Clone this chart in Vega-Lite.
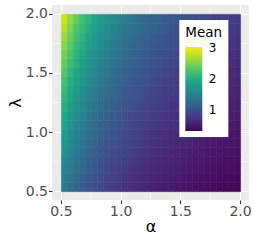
{
"$schema":"https://vega.github.io/schema/vega-lite/v6.json",
"width":197,"height":195,
"autosize":{"type":"none"},
"padding":{"left":52,"top":5,"right":5,"bottom":41},
"background":"white",
"config":{"view":{"fill":"#EBEBEB","stroke":null},"font":"DejaVu Sans"},
"datasets":{
"minor":[{"v":0.75},{"v":1.25},{"v":1.75}],
"grid":[
{"l":0.5375,"a":0.525,"m":1.45},{"l":0.5375,"a":0.575,"m":1.32},{"l":0.5375,"a":0.625,"m":1.21},{"l":0.5375,"a":0.675,"m":1.12},{"l":0.5375,"a":0.725,"m":1.04},{"l":0.5375,"a":0.775,"m":0.97},{"l":0.5375,"a":0.825,"m":0.91},{"l":0.5375,"a":0.875,"m":0.86},{"l":0.5375,"a":0.925,"m":0.81},{"l":0.5375,"a":0.975,"m":0.77},{"l":0.5375,"a":1.025,"m":0.73},{"l":0.5375,"a":1.075,"m":0.69},{"l":0.5375,"a":1.125,"m":0.66},{"l":0.5375,"a":1.175,"m":0.63},{"l":0.5375,"a":1.225,"m":0.60},{"l":0.5375,"a":1.275,"m":0.58},{"l":0.5375,"a":1.325,"m":0.55},{"l":0.5375,"a":1.375,"m":0.53},{"l":0.5375,"a":1.425,"m":0.51},{"l":0.5375,"a":1.475,"m":0.49},{"l":0.5375,"a":1.525,"m":0.48},{"l":0.5375,"a":1.575,"m":0.46},{"l":0.5375,"a":1.625,"m":0.45},{"l":0.5375,"a":1.675,"m":0.43},{"l":0.5375,"a":1.725,"m":0.42},{"l":0.5375,"a":1.775,"m":0.40},{"l":0.5375,"a":1.825,"m":0.39},{"l":0.5375,"a":1.875,"m":0.38},{"l":0.5375,"a":1.925,"m":0.37},{"l":0.5375,"a":1.975,"m":0.36},
{"l":0.6125,"a":0.525,"m":1.51},{"l":0.6125,"a":0.575,"m":1.38},{"l":0.6125,"a":0.625,"m":1.27},{"l":0.6125,"a":0.675,"m":1.17},{"l":0.6125,"a":0.725,"m":1.09},{"l":0.6125,"a":0.775,"m":1.02},{"l":0.6125,"a":0.825,"m":0.95},{"l":0.6125,"a":0.875,"m":0.90},{"l":0.6125,"a":0.925,"m":0.85},{"l":0.6125,"a":0.975,"m":0.80},{"l":0.6125,"a":1.025,"m":0.76},{"l":0.6125,"a":1.075,"m":0.72},{"l":0.6125,"a":1.125,"m":0.69},{"l":0.6125,"a":1.175,"m":0.66},{"l":0.6125,"a":1.225,"m":0.63},{"l":0.6125,"a":1.275,"m":0.60},{"l":0.6125,"a":1.325,"m":0.58},{"l":0.6125,"a":1.375,"m":0.56},{"l":0.6125,"a":1.425,"m":0.54},{"l":0.6125,"a":1.475,"m":0.52},{"l":0.6125,"a":1.525,"m":0.50},{"l":0.6125,"a":1.575,"m":0.48},{"l":0.6125,"a":1.625,"m":0.47},{"l":0.6125,"a":1.675,"m":0.45},{"l":0.6125,"a":1.725,"m":0.44},{"l":0.6125,"a":1.775,"m":0.43},{"l":0.6125,"a":1.825,"m":0.41},{"l":0.6125,"a":1.875,"m":0.40},{"l":0.6125,"a":1.925,"m":0.39},{"l":0.6125,"a":1.975,"m":0.38},
{"l":0.6875,"a":0.525,"m":1.57},{"l":0.6875,"a":0.575,"m":1.44},{"l":0.6875,"a":0.625,"m":1.32},{"l":0.6875,"a":0.675,"m":1.22},{"l":0.6875,"a":0.725,"m":1.13},{"l":0.6875,"a":0.775,"m":1.06},{"l":0.6875,"a":0.825,"m":0.99},{"l":0.6875,"a":0.875,"m":0.93},{"l":0.6875,"a":0.925,"m":0.88},{"l":0.6875,"a":0.975,"m":0.83},{"l":0.6875,"a":1.025,"m":0.79},{"l":0.6875,"a":1.075,"m":0.75},{"l":0.6875,"a":1.125,"m":0.72},{"l":0.6875,"a":1.175,"m":0.69},{"l":0.6875,"a":1.225,"m":0.66},{"l":0.6875,"a":1.275,"m":0.63},{"l":0.6875,"a":1.325,"m":0.61},{"l":0.6875,"a":1.375,"m":0.58},{"l":0.6875,"a":1.425,"m":0.56},{"l":0.6875,"a":1.475,"m":0.54},{"l":0.6875,"a":1.525,"m":0.52},{"l":0.6875,"a":1.575,"m":0.51},{"l":0.6875,"a":1.625,"m":0.49},{"l":0.6875,"a":1.675,"m":0.47},{"l":0.6875,"a":1.725,"m":0.46},{"l":0.6875,"a":1.775,"m":0.45},{"l":0.6875,"a":1.825,"m":0.43},{"l":0.6875,"a":1.875,"m":0.42},{"l":0.6875,"a":1.925,"m":0.41},{"l":0.6875,"a":1.975,"m":0.40},
{"l":0.7625,"a":0.525,"m":1.64},{"l":0.7625,"a":0.575,"m":1.49},{"l":0.7625,"a":0.625,"m":1.37},{"l":0.7625,"a":0.675,"m":1.27},{"l":0.7625,"a":0.725,"m":1.18},{"l":0.7625,"a":0.775,"m":1.10},{"l":0.7625,"a":0.825,"m":1.03},{"l":0.7625,"a":0.875,"m":0.97},{"l":0.7625,"a":0.925,"m":0.92},{"l":0.7625,"a":0.975,"m":0.87},{"l":0.7625,"a":1.025,"m":0.83},{"l":0.7625,"a":1.075,"m":0.79},{"l":0.7625,"a":1.125,"m":0.75},{"l":0.7625,"a":1.175,"m":0.72},{"l":0.7625,"a":1.225,"m":0.69},{"l":0.7625,"a":1.275,"m":0.66},{"l":0.7625,"a":1.325,"m":0.63},{"l":0.7625,"a":1.375,"m":0.61},{"l":0.7625,"a":1.425,"m":0.59},{"l":0.7625,"a":1.475,"m":0.57},{"l":0.7625,"a":1.525,"m":0.55},{"l":0.7625,"a":1.575,"m":0.53},{"l":0.7625,"a":1.625,"m":0.51},{"l":0.7625,"a":1.675,"m":0.50},{"l":0.7625,"a":1.725,"m":0.48},{"l":0.7625,"a":1.775,"m":0.47},{"l":0.7625,"a":1.825,"m":0.45},{"l":0.7625,"a":1.875,"m":0.44},{"l":0.7625,"a":1.925,"m":0.43},{"l":0.7625,"a":1.975,"m":0.42},
{"l":0.8375,"a":0.525,"m":1.70},{"l":0.8375,"a":0.575,"m":1.55},{"l":0.8375,"a":0.625,"m":1.42},{"l":0.8375,"a":0.675,"m":1.32},{"l":0.8375,"a":0.725,"m":1.22},{"l":0.8375,"a":0.775,"m":1.14},{"l":0.8375,"a":0.825,"m":1.07},{"l":0.8375,"a":0.875,"m":1.01},{"l":0.8375,"a":0.925,"m":0.95},{"l":0.8375,"a":0.975,"m":0.90},{"l":0.8375,"a":1.025,"m":0.86},{"l":0.8375,"a":1.075,"m":0.82},{"l":0.8375,"a":1.125,"m":0.78},{"l":0.8375,"a":1.175,"m":0.75},{"l":0.8375,"a":1.225,"m":0.72},{"l":0.8375,"a":1.275,"m":0.69},{"l":0.8375,"a":1.325,"m":0.66},{"l":0.8375,"a":1.375,"m":0.64},{"l":0.8375,"a":1.425,"m":0.61},{"l":0.8375,"a":1.475,"m":0.59},{"l":0.8375,"a":1.525,"m":0.57},{"l":0.8375,"a":1.575,"m":0.55},{"l":0.8375,"a":1.625,"m":0.53},{"l":0.8375,"a":1.675,"m":0.52},{"l":0.8375,"a":1.725,"m":0.50},{"l":0.8375,"a":1.775,"m":0.49},{"l":0.8375,"a":1.825,"m":0.47},{"l":0.8375,"a":1.875,"m":0.46},{"l":0.8375,"a":1.925,"m":0.45},{"l":0.8375,"a":1.975,"m":0.44},
{"l":0.9125,"a":0.525,"m":1.76},{"l":0.9125,"a":0.575,"m":1.61},{"l":0.9125,"a":0.625,"m":1.48},{"l":0.9125,"a":0.675,"m":1.37},{"l":0.9125,"a":0.725,"m":1.27},{"l":0.9125,"a":0.775,"m":1.19},{"l":0.9125,"a":0.825,"m":1.11},{"l":0.9125,"a":0.875,"m":1.05},{"l":0.9125,"a":0.925,"m":0.99},{"l":0.9125,"a":0.975,"m":0.94},{"l":0.9125,"a":1.025,"m":0.89},{"l":0.9125,"a":1.075,"m":0.85},{"l":0.9125,"a":1.125,"m":0.81},{"l":0.9125,"a":1.175,"m":0.78},{"l":0.9125,"a":1.225,"m":0.74},{"l":0.9125,"a":1.275,"m":0.71},{"l":0.9125,"a":1.325,"m":0.69},{"l":0.9125,"a":1.375,"m":0.66},{"l":0.9125,"a":1.425,"m":0.64},{"l":0.9125,"a":1.475,"m":0.62},{"l":0.9125,"a":1.525,"m":0.59},{"l":0.9125,"a":1.575,"m":0.58},{"l":0.9125,"a":1.625,"m":0.56},{"l":0.9125,"a":1.675,"m":0.54},{"l":0.9125,"a":1.725,"m":0.52},{"l":0.9125,"a":1.775,"m":0.51},{"l":0.9125,"a":1.825,"m":0.49},{"l":0.9125,"a":1.875,"m":0.48},{"l":0.9125,"a":1.925,"m":0.47},{"l":0.9125,"a":1.975,"m":0.45},
{"l":0.9875,"a":0.525,"m":1.83},{"l":0.9875,"a":0.575,"m":1.67},{"l":0.9875,"a":0.625,"m":1.53},{"l":0.9875,"a":0.675,"m":1.42},{"l":0.9875,"a":0.725,"m":1.32},{"l":0.9875,"a":0.775,"m":1.23},{"l":0.9875,"a":0.825,"m":1.16},{"l":0.9875,"a":0.875,"m":1.09},{"l":0.9875,"a":0.925,"m":1.03},{"l":0.9875,"a":0.975,"m":0.98},{"l":0.9875,"a":1.025,"m":0.93},{"l":0.9875,"a":1.075,"m":0.88},{"l":0.9875,"a":1.125,"m":0.84},{"l":0.9875,"a":1.175,"m":0.81},{"l":0.9875,"a":1.225,"m":0.77},{"l":0.9875,"a":1.275,"m":0.74},{"l":0.9875,"a":1.325,"m":0.71},{"l":0.9875,"a":1.375,"m":0.69},{"l":0.9875,"a":1.425,"m":0.66},{"l":0.9875,"a":1.475,"m":0.64},{"l":0.9875,"a":1.525,"m":0.62},{"l":0.9875,"a":1.575,"m":0.60},{"l":0.9875,"a":1.625,"m":0.58},{"l":0.9875,"a":1.675,"m":0.56},{"l":0.9875,"a":1.725,"m":0.55},{"l":0.9875,"a":1.775,"m":0.53},{"l":0.9875,"a":1.825,"m":0.52},{"l":0.9875,"a":1.875,"m":0.50},{"l":0.9875,"a":1.925,"m":0.49},{"l":0.9875,"a":1.975,"m":0.47},
{"l":1.0625,"a":0.525,"m":1.89},{"l":1.0625,"a":0.575,"m":1.73},{"l":1.0625,"a":0.625,"m":1.59},{"l":1.0625,"a":0.675,"m":1.47},{"l":1.0625,"a":0.725,"m":1.37},{"l":1.0625,"a":0.775,"m":1.28},{"l":1.0625,"a":0.825,"m":1.20},{"l":1.0625,"a":0.875,"m":1.13},{"l":1.0625,"a":0.925,"m":1.07},{"l":1.0625,"a":0.975,"m":1.01},{"l":1.0625,"a":1.025,"m":0.96},{"l":1.0625,"a":1.075,"m":0.92},{"l":1.0625,"a":1.125,"m":0.88},{"l":1.0625,"a":1.175,"m":0.84},{"l":1.0625,"a":1.225,"m":0.80},{"l":1.0625,"a":1.275,"m":0.77},{"l":1.0625,"a":1.325,"m":0.74},{"l":1.0625,"a":1.375,"m":0.72},{"l":1.0625,"a":1.425,"m":0.69},{"l":1.0625,"a":1.475,"m":0.67},{"l":1.0625,"a":1.525,"m":0.64},{"l":1.0625,"a":1.575,"m":0.62},{"l":1.0625,"a":1.625,"m":0.60},{"l":1.0625,"a":1.675,"m":0.59},{"l":1.0625,"a":1.725,"m":0.57},{"l":1.0625,"a":1.775,"m":0.55},{"l":1.0625,"a":1.825,"m":0.54},{"l":1.0625,"a":1.875,"m":0.52},{"l":1.0625,"a":1.925,"m":0.51},{"l":1.0625,"a":1.975,"m":0.49},
{"l":1.1375,"a":0.525,"m":1.96},{"l":1.1375,"a":0.575,"m":1.79},{"l":1.1375,"a":0.625,"m":1.64},{"l":1.1375,"a":0.675,"m":1.52},{"l":1.1375,"a":0.725,"m":1.42},{"l":1.1375,"a":0.775,"m":1.32},{"l":1.1375,"a":0.825,"m":1.24},{"l":1.1375,"a":0.875,"m":1.17},{"l":1.1375,"a":0.925,"m":1.11},{"l":1.1375,"a":0.975,"m":1.05},{"l":1.1375,"a":1.025,"m":1.00},{"l":1.1375,"a":1.075,"m":0.95},{"l":1.1375,"a":1.125,"m":0.91},{"l":1.1375,"a":1.175,"m":0.87},{"l":1.1375,"a":1.225,"m":0.84},{"l":1.1375,"a":1.275,"m":0.80},{"l":1.1375,"a":1.325,"m":0.77},{"l":1.1375,"a":1.375,"m":0.74},{"l":1.1375,"a":1.425,"m":0.72},{"l":1.1375,"a":1.475,"m":0.69},{"l":1.1375,"a":1.525,"m":0.67},{"l":1.1375,"a":1.575,"m":0.65},{"l":1.1375,"a":1.625,"m":0.63},{"l":1.1375,"a":1.675,"m":0.61},{"l":1.1375,"a":1.725,"m":0.59},{"l":1.1375,"a":1.775,"m":0.57},{"l":1.1375,"a":1.825,"m":0.56},{"l":1.1375,"a":1.875,"m":0.54},{"l":1.1375,"a":1.925,"m":0.53},{"l":1.1375,"a":1.975,"m":0.52},
{"l":1.2125,"a":0.525,"m":2.03},{"l":1.2125,"a":0.575,"m":1.85},{"l":1.2125,"a":0.625,"m":1.70},{"l":1.2125,"a":0.675,"m":1.58},{"l":1.2125,"a":0.725,"m":1.47},{"l":1.2125,"a":0.775,"m":1.37},{"l":1.2125,"a":0.825,"m":1.29},{"l":1.2125,"a":0.875,"m":1.21},{"l":1.2125,"a":0.925,"m":1.15},{"l":1.2125,"a":0.975,"m":1.09},{"l":1.2125,"a":1.025,"m":1.04},{"l":1.2125,"a":1.075,"m":0.99},{"l":1.2125,"a":1.125,"m":0.94},{"l":1.2125,"a":1.175,"m":0.90},{"l":1.2125,"a":1.225,"m":0.87},{"l":1.2125,"a":1.275,"m":0.83},{"l":1.2125,"a":1.325,"m":0.80},{"l":1.2125,"a":1.375,"m":0.77},{"l":1.2125,"a":1.425,"m":0.74},{"l":1.2125,"a":1.475,"m":0.72},{"l":1.2125,"a":1.525,"m":0.70},{"l":1.2125,"a":1.575,"m":0.67},{"l":1.2125,"a":1.625,"m":0.65},{"l":1.2125,"a":1.675,"m":0.63},{"l":1.2125,"a":1.725,"m":0.61},{"l":1.2125,"a":1.775,"m":0.60},{"l":1.2125,"a":1.825,"m":0.58},{"l":1.2125,"a":1.875,"m":0.57},{"l":1.2125,"a":1.925,"m":0.55},{"l":1.2125,"a":1.975,"m":0.54},
{"l":1.2875,"a":0.525,"m":2.10},{"l":1.2875,"a":0.575,"m":1.92},{"l":1.2875,"a":0.625,"m":1.76},{"l":1.2875,"a":0.675,"m":1.63},{"l":1.2875,"a":0.725,"m":1.52},{"l":1.2875,"a":0.775,"m":1.42},{"l":1.2875,"a":0.825,"m":1.34},{"l":1.2875,"a":0.875,"m":1.26},{"l":1.2875,"a":0.925,"m":1.19},{"l":1.2875,"a":0.975,"m":1.13},{"l":1.2875,"a":1.025,"m":1.07},{"l":1.2875,"a":1.075,"m":1.02},{"l":1.2875,"a":1.125,"m":0.98},{"l":1.2875,"a":1.175,"m":0.94},{"l":1.2875,"a":1.225,"m":0.90},{"l":1.2875,"a":1.275,"m":0.86},{"l":1.2875,"a":1.325,"m":0.83},{"l":1.2875,"a":1.375,"m":0.80},{"l":1.2875,"a":1.425,"m":0.77},{"l":1.2875,"a":1.475,"m":0.75},{"l":1.2875,"a":1.525,"m":0.72},{"l":1.2875,"a":1.575,"m":0.70},{"l":1.2875,"a":1.625,"m":0.68},{"l":1.2875,"a":1.675,"m":0.66},{"l":1.2875,"a":1.725,"m":0.64},{"l":1.2875,"a":1.775,"m":0.62},{"l":1.2875,"a":1.825,"m":0.60},{"l":1.2875,"a":1.875,"m":0.59},{"l":1.2875,"a":1.925,"m":0.57},{"l":1.2875,"a":1.975,"m":0.56},
{"l":1.3625,"a":0.525,"m":2.17},{"l":1.3625,"a":0.575,"m":1.98},{"l":1.3625,"a":0.625,"m":1.82},{"l":1.3625,"a":0.675,"m":1.69},{"l":1.3625,"a":0.725,"m":1.57},{"l":1.3625,"a":0.775,"m":1.47},{"l":1.3625,"a":0.825,"m":1.38},{"l":1.3625,"a":0.875,"m":1.30},{"l":1.3625,"a":0.925,"m":1.23},{"l":1.3625,"a":0.975,"m":1.17},{"l":1.3625,"a":1.025,"m":1.11},{"l":1.3625,"a":1.075,"m":1.06},{"l":1.3625,"a":1.125,"m":1.02},{"l":1.3625,"a":1.175,"m":0.97},{"l":1.3625,"a":1.225,"m":0.93},{"l":1.3625,"a":1.275,"m":0.90},{"l":1.3625,"a":1.325,"m":0.86},{"l":1.3625,"a":1.375,"m":0.83},{"l":1.3625,"a":1.425,"m":0.80},{"l":1.3625,"a":1.475,"m":0.78},{"l":1.3625,"a":1.525,"m":0.75},{"l":1.3625,"a":1.575,"m":0.73},{"l":1.3625,"a":1.625,"m":0.70},{"l":1.3625,"a":1.675,"m":0.68},{"l":1.3625,"a":1.725,"m":0.66},{"l":1.3625,"a":1.775,"m":0.65},{"l":1.3625,"a":1.825,"m":0.63},{"l":1.3625,"a":1.875,"m":0.61},{"l":1.3625,"a":1.925,"m":0.60},{"l":1.3625,"a":1.975,"m":0.58},
{"l":1.4375,"a":0.525,"m":2.24},{"l":1.4375,"a":0.575,"m":2.05},{"l":1.4375,"a":0.625,"m":1.89},{"l":1.4375,"a":0.675,"m":1.75},{"l":1.4375,"a":0.725,"m":1.63},{"l":1.4375,"a":0.775,"m":1.52},{"l":1.4375,"a":0.825,"m":1.43},{"l":1.4375,"a":0.875,"m":1.35},{"l":1.4375,"a":0.925,"m":1.28},{"l":1.4375,"a":0.975,"m":1.21},{"l":1.4375,"a":1.025,"m":1.15},{"l":1.4375,"a":1.075,"m":1.10},{"l":1.4375,"a":1.125,"m":1.05},{"l":1.4375,"a":1.175,"m":1.01},{"l":1.4375,"a":1.225,"m":0.97},{"l":1.4375,"a":1.275,"m":0.93},{"l":1.4375,"a":1.325,"m":0.89},{"l":1.4375,"a":1.375,"m":0.86},{"l":1.4375,"a":1.425,"m":0.83},{"l":1.4375,"a":1.475,"m":0.80},{"l":1.4375,"a":1.525,"m":0.78},{"l":1.4375,"a":1.575,"m":0.75},{"l":1.4375,"a":1.625,"m":0.73},{"l":1.4375,"a":1.675,"m":0.71},{"l":1.4375,"a":1.725,"m":0.69},{"l":1.4375,"a":1.775,"m":0.67},{"l":1.4375,"a":1.825,"m":0.65},{"l":1.4375,"a":1.875,"m":0.63},{"l":1.4375,"a":1.925,"m":0.62},{"l":1.4375,"a":1.975,"m":0.60},
{"l":1.5125,"a":0.525,"m":2.32},{"l":1.5125,"a":0.575,"m":2.12},{"l":1.5125,"a":0.625,"m":1.95},{"l":1.5125,"a":0.675,"m":1.81},{"l":1.5125,"a":0.725,"m":1.68},{"l":1.5125,"a":0.775,"m":1.58},{"l":1.5125,"a":0.825,"m":1.48},{"l":1.5125,"a":0.875,"m":1.40},{"l":1.5125,"a":0.925,"m":1.32},{"l":1.5125,"a":0.975,"m":1.26},{"l":1.5125,"a":1.025,"m":1.20},{"l":1.5125,"a":1.075,"m":1.14},{"l":1.5125,"a":1.125,"m":1.09},{"l":1.5125,"a":1.175,"m":1.04},{"l":1.5125,"a":1.225,"m":1.00},{"l":1.5125,"a":1.275,"m":0.96},{"l":1.5125,"a":1.325,"m":0.93},{"l":1.5125,"a":1.375,"m":0.89},{"l":1.5125,"a":1.425,"m":0.86},{"l":1.5125,"a":1.475,"m":0.83},{"l":1.5125,"a":1.525,"m":0.81},{"l":1.5125,"a":1.575,"m":0.78},{"l":1.5125,"a":1.625,"m":0.76},{"l":1.5125,"a":1.675,"m":0.74},{"l":1.5125,"a":1.725,"m":0.72},{"l":1.5125,"a":1.775,"m":0.70},{"l":1.5125,"a":1.825,"m":0.68},{"l":1.5125,"a":1.875,"m":0.66},{"l":1.5125,"a":1.925,"m":0.64},{"l":1.5125,"a":1.975,"m":0.63},
{"l":1.5875,"a":0.525,"m":2.40},{"l":1.5875,"a":0.575,"m":2.19},{"l":1.5875,"a":0.625,"m":2.02},{"l":1.5875,"a":0.675,"m":1.87},{"l":1.5875,"a":0.725,"m":1.74},{"l":1.5875,"a":0.775,"m":1.63},{"l":1.5875,"a":0.825,"m":1.53},{"l":1.5875,"a":0.875,"m":1.45},{"l":1.5875,"a":0.925,"m":1.37},{"l":1.5875,"a":0.975,"m":1.30},{"l":1.5875,"a":1.025,"m":1.24},{"l":1.5875,"a":1.075,"m":1.18},{"l":1.5875,"a":1.125,"m":1.13},{"l":1.5875,"a":1.175,"m":1.08},{"l":1.5875,"a":1.225,"m":1.04},{"l":1.5875,"a":1.275,"m":1.00},{"l":1.5875,"a":1.325,"m":0.96},{"l":1.5875,"a":1.375,"m":0.93},{"l":1.5875,"a":1.425,"m":0.90},{"l":1.5875,"a":1.475,"m":0.87},{"l":1.5875,"a":1.525,"m":0.84},{"l":1.5875,"a":1.575,"m":0.81},{"l":1.5875,"a":1.625,"m":0.79},{"l":1.5875,"a":1.675,"m":0.76},{"l":1.5875,"a":1.725,"m":0.74},{"l":1.5875,"a":1.775,"m":0.72},{"l":1.5875,"a":1.825,"m":0.70},{"l":1.5875,"a":1.875,"m":0.68},{"l":1.5875,"a":1.925,"m":0.67},{"l":1.5875,"a":1.975,"m":0.65},
{"l":1.6625,"a":0.525,"m":2.48},{"l":1.6625,"a":0.575,"m":2.27},{"l":1.6625,"a":0.625,"m":2.09},{"l":1.6625,"a":0.675,"m":1.94},{"l":1.6625,"a":0.725,"m":1.80},{"l":1.6625,"a":0.775,"m":1.69},{"l":1.6625,"a":0.825,"m":1.59},{"l":1.6625,"a":0.875,"m":1.50},{"l":1.6625,"a":0.925,"m":1.42},{"l":1.6625,"a":0.975,"m":1.35},{"l":1.6625,"a":1.025,"m":1.28},{"l":1.6625,"a":1.075,"m":1.22},{"l":1.6625,"a":1.125,"m":1.17},{"l":1.6625,"a":1.175,"m":1.12},{"l":1.6625,"a":1.225,"m":1.08},{"l":1.6625,"a":1.275,"m":1.04},{"l":1.6625,"a":1.325,"m":1.00},{"l":1.6625,"a":1.375,"m":0.96},{"l":1.6625,"a":1.425,"m":0.93},{"l":1.6625,"a":1.475,"m":0.90},{"l":1.6625,"a":1.525,"m":0.87},{"l":1.6625,"a":1.575,"m":0.84},{"l":1.6625,"a":1.625,"m":0.82},{"l":1.6625,"a":1.675,"m":0.79},{"l":1.6625,"a":1.725,"m":0.77},{"l":1.6625,"a":1.775,"m":0.75},{"l":1.6625,"a":1.825,"m":0.73},{"l":1.6625,"a":1.875,"m":0.71},{"l":1.6625,"a":1.925,"m":0.69},{"l":1.6625,"a":1.975,"m":0.68},
{"l":1.7375,"a":0.525,"m":2.57},{"l":1.7375,"a":0.575,"m":2.35},{"l":1.7375,"a":0.625,"m":2.16},{"l":1.7375,"a":0.675,"m":2.00},{"l":1.7375,"a":0.725,"m":1.87},{"l":1.7375,"a":0.775,"m":1.75},{"l":1.7375,"a":0.825,"m":1.64},{"l":1.7375,"a":0.875,"m":1.55},{"l":1.7375,"a":0.925,"m":1.47},{"l":1.7375,"a":0.975,"m":1.40},{"l":1.7375,"a":1.025,"m":1.33},{"l":1.7375,"a":1.075,"m":1.27},{"l":1.7375,"a":1.125,"m":1.21},{"l":1.7375,"a":1.175,"m":1.16},{"l":1.7375,"a":1.225,"m":1.12},{"l":1.7375,"a":1.275,"m":1.07},{"l":1.7375,"a":1.325,"m":1.03},{"l":1.7375,"a":1.375,"m":1.00},{"l":1.7375,"a":1.425,"m":0.96},{"l":1.7375,"a":1.475,"m":0.93},{"l":1.7375,"a":1.525,"m":0.90},{"l":1.7375,"a":1.575,"m":0.87},{"l":1.7375,"a":1.625,"m":0.85},{"l":1.7375,"a":1.675,"m":0.82},{"l":1.7375,"a":1.725,"m":0.80},{"l":1.7375,"a":1.775,"m":0.78},{"l":1.7375,"a":1.825,"m":0.76},{"l":1.7375,"a":1.875,"m":0.74},{"l":1.7375,"a":1.925,"m":0.72},{"l":1.7375,"a":1.975,"m":0.70},
{"l":1.8125,"a":0.525,"m":2.66},{"l":1.8125,"a":0.575,"m":2.43},{"l":1.8125,"a":0.625,"m":2.24},{"l":1.8125,"a":0.675,"m":2.07},{"l":1.8125,"a":0.725,"m":1.93},{"l":1.8125,"a":0.775,"m":1.81},{"l":1.8125,"a":0.825,"m":1.70},{"l":1.8125,"a":0.875,"m":1.61},{"l":1.8125,"a":0.925,"m":1.52},{"l":1.8125,"a":0.975,"m":1.45},{"l":1.8125,"a":1.025,"m":1.38},{"l":1.8125,"a":1.075,"m":1.31},{"l":1.8125,"a":1.125,"m":1.26},{"l":1.8125,"a":1.175,"m":1.20},{"l":1.8125,"a":1.225,"m":1.16},{"l":1.8125,"a":1.275,"m":1.11},{"l":1.8125,"a":1.325,"m":1.07},{"l":1.8125,"a":1.375,"m":1.03},{"l":1.8125,"a":1.425,"m":1.00},{"l":1.8125,"a":1.475,"m":0.97},{"l":1.8125,"a":1.525,"m":0.94},{"l":1.8125,"a":1.575,"m":0.91},{"l":1.8125,"a":1.625,"m":0.88},{"l":1.8125,"a":1.675,"m":0.85},{"l":1.8125,"a":1.725,"m":0.83},{"l":1.8125,"a":1.775,"m":0.81},{"l":1.8125,"a":1.825,"m":0.79},{"l":1.8125,"a":1.875,"m":0.77},{"l":1.8125,"a":1.925,"m":0.75},{"l":1.8125,"a":1.975,"m":0.73},
{"l":1.8875,"a":0.525,"m":2.75},{"l":1.8875,"a":0.575,"m":2.51},{"l":1.8875,"a":0.625,"m":2.31},{"l":1.8875,"a":0.675,"m":2.15},{"l":1.8875,"a":0.725,"m":2.00},{"l":1.8875,"a":0.775,"m":1.87},{"l":1.8875,"a":0.825,"m":1.76},{"l":1.8875,"a":0.875,"m":1.66},{"l":1.8875,"a":0.925,"m":1.58},{"l":1.8875,"a":0.975,"m":1.50},{"l":1.8875,"a":1.025,"m":1.43},{"l":1.8875,"a":1.075,"m":1.36},{"l":1.8875,"a":1.125,"m":1.30},{"l":1.8875,"a":1.175,"m":1.25},{"l":1.8875,"a":1.225,"m":1.20},{"l":1.8875,"a":1.275,"m":1.15},{"l":1.8875,"a":1.325,"m":1.11},{"l":1.8875,"a":1.375,"m":1.07},{"l":1.8875,"a":1.425,"m":1.04},{"l":1.8875,"a":1.475,"m":1.00},{"l":1.8875,"a":1.525,"m":0.97},{"l":1.8875,"a":1.575,"m":0.94},{"l":1.8875,"a":1.625,"m":0.91},{"l":1.8875,"a":1.675,"m":0.89},{"l":1.8875,"a":1.725,"m":0.86},{"l":1.8875,"a":1.775,"m":0.84},{"l":1.8875,"a":1.825,"m":0.82},{"l":1.8875,"a":1.875,"m":0.80},{"l":1.8875,"a":1.925,"m":0.78},{"l":1.8875,"a":1.975,"m":0.76},
{"l":1.9625,"a":0.525,"m":2.84},{"l":1.9625,"a":0.575,"m":2.60},{"l":1.9625,"a":0.625,"m":2.40},{"l":1.9625,"a":0.675,"m":2.22},{"l":1.9625,"a":0.725,"m":2.07},{"l":1.9625,"a":0.775,"m":1.94},{"l":1.9625,"a":0.825,"m":1.82},{"l":1.9625,"a":0.875,"m":1.72},{"l":1.9625,"a":0.925,"m":1.63},{"l":1.9625,"a":0.975,"m":1.55},{"l":1.9625,"a":1.025,"m":1.48},{"l":1.9625,"a":1.075,"m":1.41},{"l":1.9625,"a":1.125,"m":1.35},{"l":1.9625,"a":1.175,"m":1.29},{"l":1.9625,"a":1.225,"m":1.24},{"l":1.9625,"a":1.275,"m":1.20},{"l":1.9625,"a":1.325,"m":1.15},{"l":1.9625,"a":1.375,"m":1.11},{"l":1.9625,"a":1.425,"m":1.07},{"l":1.9625,"a":1.475,"m":1.04},{"l":1.9625,"a":1.525,"m":1.01},{"l":1.9625,"a":1.575,"m":0.98},{"l":1.9625,"a":1.625,"m":0.95},{"l":1.9625,"a":1.675,"m":0.92},{"l":1.9625,"a":1.725,"m":0.89},{"l":1.9625,"a":1.775,"m":0.87},{"l":1.9625,"a":1.825,"m":0.85},{"l":1.9625,"a":1.875,"m":0.83},{"l":1.9625,"a":1.925,"m":0.81},{"l":1.9625,"a":1.975,"m":0.79}
]},
"layer":[
{"data":{"name":"minor"},"mark":{"type":"rule","color":"white","strokeWidth":0.55},
 "encoding":{"x":{"field":"v","type":"quantitative","title":"α","scale":{"domain":[0.425,2.075],"nice":false,"zero":false}}}},
{"data":{"name":"minor"},"mark":{"type":"rule","color":"white","strokeWidth":0.55},
 "encoding":{"y":{"field":"v","type":"quantitative","title":"λ","scale":{"domain":[0.425,2.075],"nice":false,"zero":false}}}},
{"data":{"name":"grid"},"mark":{"type":"rect","strokeWidth":0.6,"stroke":{"expr":"scale('color', datum.mean_m)"}},
 "encoding":{
  "x":{"field":"a","type":"quantitative","bin":{"step":0.05,"extent":[0.5,2],"nice":false},
   "scale":{"domain":[0.425,2.075],"nice":false,"zero":false},
   "title":"α",
   "axis":{"values":[0.5,1,1.5,2],"format":".1f","grid":true,"gridColor":"white","gridWidth":1.1,"domain":false,
     "tickColor":"#333333","tickSize":3.5,"tickWidth":1.1,"labelFontSize":14,"labelColor":"#4D4D4D","labelPadding":1,"labelFlush":false,
     "titleFont":"DejaVu Sans","titleFontSize":16,"titleFontWeight":"normal","titleColor":"black","titlePadding":0}},
  "y":{"field":"l","type":"quantitative","bin":{"step":0.075,"extent":[0.5,2],"nice":false},
   "scale":{"domain":[0.425,2.075],"nice":false,"zero":false},
   "title":"λ",
   "axis":{"values":[0.5,1,1.5,2],"format":".1f","grid":true,"gridColor":"white","gridWidth":1.1,"domain":false,
     "tickColor":"#333333","tickSize":3.5,"tickWidth":1.1,"labelFontSize":14,"labelColor":"#4D4D4D","labelPadding":1,"labelFlush":false,
     "titleFont":"DejaVu Sans","titleFontSize":16,"titleFontWeight":"normal","titleColor":"black","titlePadding":2}},
  "color":{"field":"m","type":"quantitative","aggregate":"mean","title":"Mean",
   "scale":{"scheme":"viridis","domain":[0.33,3.04],"nice":false,"zero":false},
   "legend":{"type":"gradient","orient":"none","legendX":127.3,"legendY":15,"direction":"vertical","fillColor":"white","padding":6,
     "gradientLength":84,"gradientThickness":17,"gradientStrokeWidth":0,"values":[1,2,3],"format":"d",
     "titleFontSize":13.5,"titleFontWeight":"normal","titleColor":"black","titlePadding":7.5,
     "labelFontSize":12,"labelColor":"black","labelOffset":6.5}}
 }}
]
}
